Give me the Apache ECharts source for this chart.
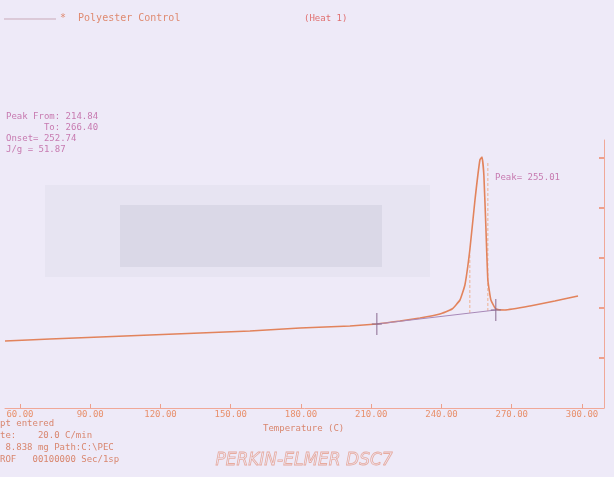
<!DOCTYPE html>
<html>
<head>
<meta charset="utf-8">
<title>Polyester Control - DSC</title>
<script src="https://cdn.jsdelivr.net/npm/echarts@6/dist/echarts.min.js"></script>
<style>
  html, body { margin: 0; padding: 0; background: #eeeaf8; }
  #chart { width: 614px; height: 477px; }
</style>
</head>
<body>
<div id="chart"></div>
<script>
// temperature (C) and heat flow (arbitrary units)
var temps = [53.6, 72.8, 94.2, 115.5, 136.9, 158.2, 179.6, 200.9, 212.4, 222.3, 230.8, 239.3,
  244.5, 247.9, 250.0, 252.1, 254.3, 256.4, 257.3, 258.1, 259.0, 259.8, 261.1, 263.2, 267.1,
  277.8, 288.4, 298.3];
var heatFlow = [1.34, 1.38, 1.42, 1.46, 1.50, 1.54, 1.60, 1.64, 1.68, 1.74, 1.80, 1.88,
  1.98, 2.16, 2.46, 3.16, 4.16, 4.96, 5.02, 4.66, 3.56, 2.56, 2.16, 1.98, 1.96,
  2.04, 2.14, 2.24];
// peak integration limits (from / to) on the baseline
var limitTemps = [212.4, 263.2];
var limitFlow = [1.68, 1.96];
// faint drop lines under the peak
var dropTemps = [252.1, 259.8];
var dropTop = [3.06, 4.9];
var dropBottom = [1.86, 1.94];
var xTicks = [60, 90, 120, 150, 180, 210, 240, 270, 300];
var yTicks = [1, 2, 3, 4, 5];

var infoLines = ['Peak From: 214.84', '       To: 266.40', 'Onset= 252.74', 'J/g = 51.87'];
var footLines = ['pt entered', 'te:    20.0 C/min', ' 8.838 mg Path:C:\\PEC', 'ROF   00100000 Sec/1sp'];

var chart = echarts.init(document.getElementById('chart'));
var orange = '#e2835c';
var mono = '"DejaVu Sans Mono", monospace';

var texts = [];
infoLines.forEach(function (t, i) {
  texts.push({ type: 'text', left: 6, top: 112 + i * 11,
    style: { text: t, font: '9px ' + mono, fill: '#c77ab0' } });
});
footLines.forEach(function (t, i) {
  texts.push({ type: 'text', left: 0, top: 419 + i * 12,
    style: { text: t, font: '9px ' + mono, fill: '#d9866e' } });
});

var drops = dropTemps.map(function (t, i) {
  return {
    type: 'line',
    data: [[t, dropTop[i]], [t, dropBottom[i]]],
    showSymbol: false,
    lineStyle: { color: '#eeb090', width: 1, type: [3, 2] },
    z: 2
  };
});

var option = {
  backgroundColor: '#eeeaf8',
  animation: false,
  grid: { left: 5, right: 10, top: 140, bottom: 69 },
  xAxis: {
    type: 'value',
    min: 53.6,
    max: 309.4,
    axisLine: { lineStyle: { color: '#f0a898', width: 1 } },
    axisTick: { customValues: xTicks, inside: true, length: 4, lineStyle: { color: '#eea08c' } },
    axisLabel: {
      customValues: xTicks,
      color: '#e8906c',
      fontSize: 9,
      fontFamily: 'DejaVu Sans Mono',
      margin: 2,
      formatter: function (v) { return v.toFixed(2); }
    },
    splitLine: { show: false }
  },
  yAxis: {
    type: 'value',
    position: 'right',
    min: 0,
    max: 5.36,
    axisLine: { show: true, lineStyle: { color: '#f0a898', width: 1 } },
    axisTick: { show: true, customValues: yTicks, inside: true, length: 5, lineStyle: { color: '#eea08c', width: 2 } },
    axisLabel: { show: false },
    splitLine: { show: false }
  },
  graphic: [
    // faint grey patches from the scanned sheet
    { type: 'rect', shape: { x: 45, y: 185, width: 385, height: 92 }, style: { fill: 'rgba(190,188,205,0.14)' }, z: -1 },
    { type: 'rect', shape: { x: 120, y: 205, width: 262, height: 62 }, style: { fill: 'rgba(170,168,190,0.2)' }, z: -1 },
    // legend line and title
    { type: 'line', shape: { x1: 4, y1: 19, x2: 56, y2: 19 }, style: { stroke: '#c9a9b8', lineWidth: 1 } },
    { type: 'text', left: 60, top: 13, style: { text: '*  Polyester Control', font: '10px ' + mono, fill: '#df8a70' } },
    { type: 'text', left: 304, top: 14, style: { text: '(Heat 1)', font: '9px ' + mono, fill: '#e07070' } },
    { type: 'text', left: 495, top: 173, style: { text: 'Peak= 255.01', font: '9px ' + mono, fill: '#c77ab0' } },
    { type: 'text', left: 263, top: 424, style: { text: 'Temperature (C)', font: '9px ' + mono, fill: '#d9866e' } },
    { type: 'text', left: 215, top: 452, style: { text: 'PERKIN-ELMER DSC7', font: 'italic 17px "DejaVu Sans", sans-serif',
      fill: 'rgba(238,234,248,0)', stroke: 'rgba(228,150,130,0.75)', lineWidth: 0.8 } }
  ].concat(texts),
  series: [
    {
      type: 'line',
      data: temps.map(function (t, i) { return [t, heatFlow[i]]; }),
      showSymbol: false,
      smooth: 0.12,
      lineStyle: { color: orange, width: 1.6 },
      z: 3
    },
    {
      // integration baseline between the limits
      type: 'line',
      data: limitTemps.map(function (t, i) { return [t, limitFlow[i]]; }),
      showSymbol: true,
      symbol: 'path://M4.5,0h1v20h-1zM0,9.5h10v1h-10z',
      symbolSize: [10, 22],
      lineStyle: { color: '#a889b8', width: 1 },
      itemStyle: { color: '#8a6a90' },
      z: 4
    }
  ].concat(drops)
};
chart.setOption(option);
</script>
</body>
</html>
